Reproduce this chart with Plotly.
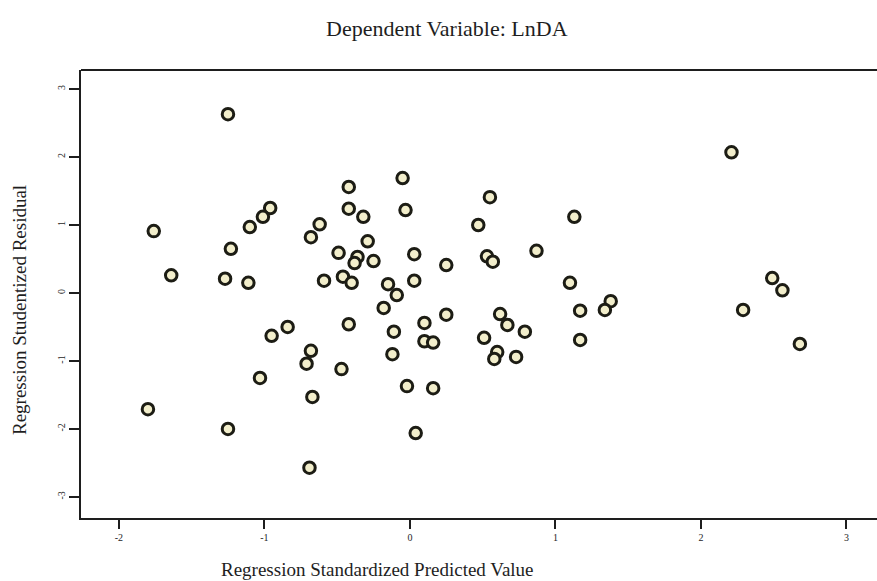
import plotly.graph_objects as go

# Regression Standardized Predicted Value (x) and Studentized Residual (y)
pred = [-1.25, -1.76, -0.96, -1.01, -1.10, -1.23, -1.64, -1.27, -1.11, -0.84,
        -0.95, -1.03, -1.80, -1.25, -0.05, -0.42, -0.42, -0.03, -0.32, -0.62,
        -0.68, -0.29, -0.49, 0.03, -0.36, -0.38, -0.25, 0.25, -0.59, -0.46,
        -0.40, -0.15, 0.03, -0.09, -0.18, -0.42, -0.11, 0.10, 0.25, 0.10,
        0.16, -0.68, -0.12, -0.71, -0.47, -0.02, 0.16, -0.67, 0.04, -0.69,
        0.55, 1.13, 0.47, 0.87, 0.53, 0.57, 1.10, 0.62, 1.17, 0.67,
        0.79, 0.51, 0.60, 0.58, 0.73, 1.17, 2.21, 2.49, 2.56, 2.29,
        2.68, 1.38, 1.34]
resid = [2.63, 0.91, 1.25, 1.12, 0.97, 0.65, 0.26, 0.21, 0.15, -0.50,
         -0.63, -1.25, -1.71, -2.00, 1.69, 1.56, 1.24, 1.22, 1.12, 1.01,
         0.82, 0.76, 0.59, 0.57, 0.53, 0.44, 0.47, 0.41, 0.18, 0.24,
         0.15, 0.13, 0.18, -0.03, -0.22, -0.46, -0.57, -0.44, -0.32, -0.71,
         -0.73, -0.85, -0.90, -1.04, -1.12, -1.37, -1.40, -1.53, -2.06, -2.57,
         1.41, 1.12, 1.00, 0.62, 0.54, 0.46, 0.15, -0.31, -0.26, -0.47,
         -0.57, -0.66, -0.87, -0.97, -0.94, -0.69, 2.07, 0.22, 0.04, -0.25,
         -0.75, -0.12, -0.25]

x_ticks = [-2, -1, 0, 1, 2, 3]
y_ticks = [-3, -2, -1, 0, 1, 2, 3]

title_text = "Dependent Variable: LnDA"
x_title = "Regression Standardized Predicted Value"
y_title = "Regression Studentized Residual"

FONT = "Liberation Serif, Times New Roman, serif"
INK = "#1e1e1e"

fig = go.Figure()
fig.add_trace(go.Scatter(
    x=pred, y=resid, mode="markers",
    marker=dict(symbol="circle", size=11.5, color="#f2eecb",
                line=dict(color="#1c1c14", width=3)),
    hoverinfo="x+y", showlegend=False,
))

fig.update_layout(
    width=877, height=581,
    margin=dict(l=81, r=0, t=70, b=63),
    paper_bgcolor="white", plot_bgcolor="white",
    font=dict(family=FONT, color=INK),
    xaxis=dict(range=[-2.26, 3.21], tickvals=x_ticks, ticktext=[str(v) for v in x_ticks],
               showgrid=False, zeroline=False, showline=True, linecolor=INK, linewidth=2,
               ticks="outside", ticklen=9, tickwidth=2, tickcolor=INK,
               tickfont=dict(size=10, family=FONT, color=INK)),
    yaxis=dict(range=[-3.31, 3.28], tickvals=y_ticks, ticktext=[str(v) for v in y_ticks],
               showgrid=False, zeroline=False, showline=True, linecolor=INK, linewidth=2,
               ticks="outside", ticklen=10, tickwidth=2, tickcolor=INK, tickangle=-90,
               tickfont=dict(size=10, family=FONT, color=INK)),
    shapes=[dict(type="line", xref="paper", yref="paper", x0=0, x1=1, y0=1, y1=1,
                 line=dict(color=INK, width=2))],
    annotations=[
        dict(text=title_text, xref="paper", yref="paper", x=0.460, y=(518 - 28) / 448,
             xanchor="center", yanchor="middle", showarrow=False,
             font=dict(size=22, family=FONT, color=INK)),
        dict(text=x_title, xref="paper", yref="paper", x=(377 - 81) / 796, y=(518 - 569) / 448,
             xanchor="center", yanchor="middle", showarrow=False,
             font=dict(size=19, family=FONT, color=INK)),
        dict(text=y_title, xref="paper", yref="paper", x=(19 - 81) / 796, y=(518 - 310) / 448,
             xanchor="center", yanchor="middle", showarrow=False, textangle=-90,
             font=dict(size=19, family=FONT, color=INK)),
    ],
)

fig.write_html("out.html")
